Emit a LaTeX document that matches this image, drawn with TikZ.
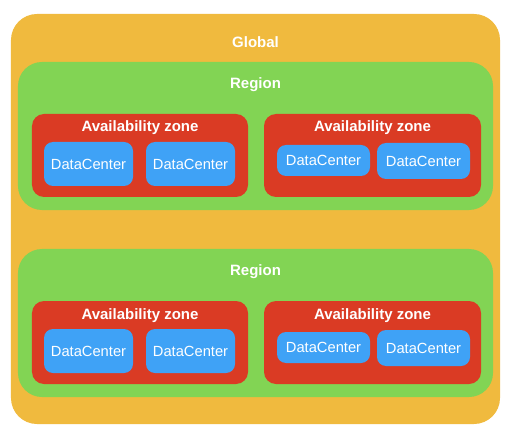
\documentclass[tikz,border=0pt]{standalone}
\usepackage{fontspec}
\setmainfont{Liberation Sans}
\definecolor{globalc}{HTML}{F0BA3E}
\definecolor{regionc}{HTML}{82D454}
\definecolor{azc}{HTML}{DA3B24}
\definecolor{dcc}{HTML}{3FA2F6}
\begin{document}
\begin{tikzpicture}[x=1bp,y=-1bp,
  box/.style={rectangle,inner sep=0pt,outer sep=0pt,draw=none},
  globalbox/.style={box,fill=globalc,rounded corners=26bp,minimum width=489bp,minimum height=410bp},
  regionbox/.style={box,fill=regionc,rounded corners=24bp,minimum width=475bp,minimum height=148bp},
  azbox/.style={box,fill=azc,rounded corners=12bp,minimum width=216bp,minimum height=83bp},
  dcbox/.style={box,fill=dcc,rounded corners=9bp,text=white,font=\fontsize{14.7bp}{17bp}\selectfont},
  lbl/.style={anchor=base,inner sep=0pt,text=white,font=\fontsize{15bp}{18bp}\selectfont\bfseries}
]
\useasboundingbox (0,0) rectangle (512,434);
\node[globalbox] (global) at (255.5,219) {};
\node[lbl] (globallbl) at (255.5,47.5) {Global};
\foreach \i/\dy in {1/0,2/187}{
  \node[regionbox] (region\i) at (255.5,136+\dy) {};
  \node[lbl] (regionlbl\i) at (255.5,88.5+\dy) {Region};
  \node[azbox] (azA\i) at (140,155.5+\dy) {};
  \node[azbox,minimum width=217bp] (azB\i) at (372.5,155.5+\dy) {};
  \node[lbl] (azAlbl\i) at (140,132+\dy) {Availability zone};
  \node[lbl] (azBlbl\i) at (372.5,132+\dy) {Availability zone};
  \node[dcbox,minimum width=89bp,minimum height=44bp] (dcA\i) at (88.5,164+\dy) {DataCenter};
  \node[dcbox,minimum width=89bp,minimum height=44bp] (dcB\i) at (190.5,164+\dy) {DataCenter};
  \node[dcbox,minimum width=93bp,minimum height=31bp] (dcC\i) at (323.5,160.5+\dy) {DataCenter};
  \node[dcbox,minimum width=93bp,minimum height=36bp] (dcD\i) at (423.5,161+\dy) {DataCenter};
}
\end{tikzpicture}
\end{document}
